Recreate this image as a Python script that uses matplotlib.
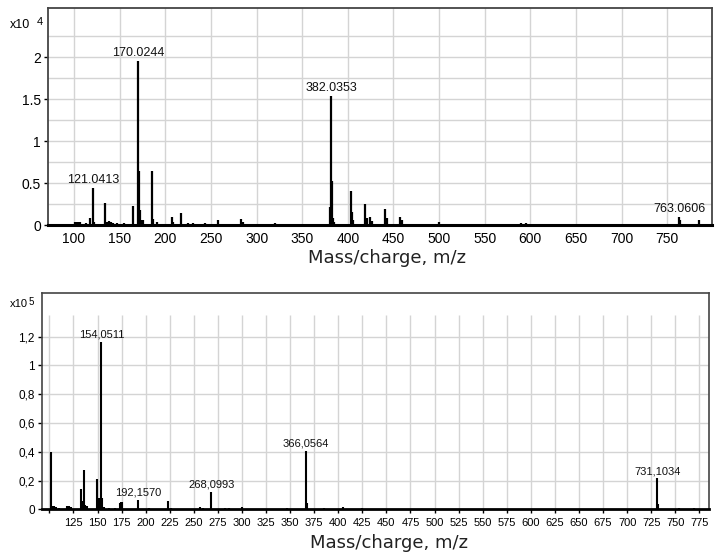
import matplotlib
matplotlib.use("Agg")
import matplotlib.pyplot as plt

# ---------------- data: top spectrum (intensity x10^4) ----------------
top_mz = [101, 103, 105, 107, 113, 118, 121.0413, 122, 133.5, 136, 138, 140, 143, 147,
          155, 164.5, 170.0244, 171, 172, 174, 176, 185, 187, 191, 207, 208, 217,
          225, 230, 243, 258, 283, 285, 320, 381, 382.0353, 383, 384, 385, 404, 405, 406,
          419, 421, 424, 426, 441, 443, 457, 459, 500, 540, 560, 565, 570, 575, 580,
          590, 595, 620, 635, 700, 715, 730, 763.0606, 764, 785]
top_int = [0.03, 0.03, 0.03, 0.04, 0.02, 0.08, 0.44, 0.04, 0.26, 0.03, 0.05, 0.03, 0.02, 0.02,
           0.02, 0.23, 1.96, 0.65, 0.18, 0.06, 0.06, 0.64, 0.07, 0.04, 0.09, 0.03, 0.14,
           0.02, 0.02, 0.02, 0.06, 0.07, 0.03, 0.02, 0.22, 1.54, 0.52, 0.08, 0.03, 0.41, 0.16, 0.06,
           0.25, 0.08, 0.09, 0.05, 0.19, 0.08, 0.10, 0.06, 0.03, 0.015, 0.015, 0.015, 0.015, 0.015, 0.015,
           0.02, 0.02, 0.015, 0.015, 0.015, 0.015, 0.015, 0.10, 0.06, 0.06]
top_labels = {121.0413: "121.0413", 170.0244: "170.0244", 382.0353: "382.0353", 763.0606: "763.0606"}

# ---------------- data: bottom spectrum (intensity x10^5) ----------------
bot_mz = [102, 104, 105, 107, 110, 118, 120, 122, 132.5, 134, 136, 137, 139, 149.5, 151, 152,
          154.0511, 155, 157, 162, 168, 173, 174, 175, 192.157, 203, 223.5, 226, 256, 259,
          268.0993, 282, 287, 300, 347, 366.0564, 367, 385, 405, 425, 731.1034, 732.5, 754, 769]
bot_int = [0.40, 0.02, 0.02, 0.015, 0.01, 0.02, 0.02, 0.015, 0.14, 0.06, 0.27, 0.03, 0.02, 0.21, 0.08, 0.02,
           1.165, 0.08, 0.015, 0.01, 0.01, 0.045, 0.05, 0.05, 0.065, 0.01, 0.06, 0.01, 0.015, 0.01,
           0.12, 0.01, 0.01, 0.015, 0.01, 0.405, 0.046, 0.01, 0.015, 0.01, 0.215, 0.04, 0.01, 0.01]
bot_labels = {154.0511: "154,0511", 192.157: "192,1570", 268.0993: "268,0993",
              366.0564: "366,0564", 731.1034: "731,1034"}

top_xticks = [100, 150, 200, 250, 300, 350, 400, 450, 500, 550, 600, 650, 700, 750]
top_yticks = [0, 0.5, 1, 1.5, 2]
top_ytick_labels = ["0", "0.5", "1", "1.5", "2"]
top_ygrid = [0.25, 0.5, 0.75, 1.0, 1.25, 1.5, 1.75, 2.0, 2.25]

bot_xticks = list(range(100, 776, 25))
bot_xtick_labels = [""] + [str(v) for v in range(125, 776, 25)]
bot_yticks = [0, 0.2, 0.4, 0.6, 0.8, 1.0, 1.2]
bot_ytick_labels = ["0", "0,2", "0,4", "0,6", "0,8", "1", "1,2"]

xlabel = "Mass/charge, m/z"

plt.rcParams['font.family'] = ['Liberation Sans', 'DejaVu Sans']

fig = plt.figure(figsize=(7.17, 5.57), dpi=100)
W, H = 717, 557

def ax_rect(l, t, r, b):
    return [l / W, 1 - b / H, (r - l) / W, (b - t) / H]

grid_col = '#d4d4d4'

# ---------------- top panel ----------------
ax1 = fig.add_axes(ax_rect(48, 8, 712, 225))
ax1.set_xlim(71.5, 799)
ax1.set_ylim(0, 2.59)
for g in top_xticks:
    ax1.axvline(g, color=grid_col, lw=1.0, zorder=0)
for g in top_ygrid:
    ax1.axhline(g, color=grid_col, lw=1.0, zorder=0)
ax1.vlines(top_mz, 0, top_int, color='black', lw=1.6, zorder=3)
for m, lab in top_labels.items():
    y = top_int[top_mz.index(m)]
    ax1.annotate(lab, (m, y), xytext=(0, 1.5), textcoords='offset points',
                 ha='center', va='bottom', fontsize=9, color='#111111')
ax1.set_xticks(top_xticks)
ax1.set_xticklabels([str(v) for v in top_xticks], fontsize=10)
ax1.set_yticks(top_yticks)
ax1.set_yticklabels(top_ytick_labels, fontsize=10)
ax1.tick_params(axis='x', length=0, pad=5)
ax1.tick_params(axis='y', length=3, width=1, pad=2)
for s in ['top', 'right', 'left']:
    ax1.spines[s].set_color('#444444')
    ax1.spines[s].set_linewidth(1.3)
ax1.spines['bottom'].set_color('black')
ax1.spines['bottom'].set_linewidth(2.2)
ax1.set_xlabel(xlabel, fontsize=13, family='DejaVu Sans', color='#222222')
ax1.xaxis.set_label_coords(0.51, -0.11)
fig.text(10 / W, 1 - 25 / H, "x10", fontsize=9, va='center', ha='left')
fig.text(37 / W, 1 - 22 / H, "4", fontsize=8, va='center', ha='left')

# ---------------- bottom panel ----------------
ax2 = fig.add_axes(ax_rect(41.7, 292.7, 709, 509.3))
ax2.set_xlim(92, 785)
ax2.set_ylim(0, 1.505)
ax2.vlines(bot_xticks, 0, 1.35, color=grid_col, lw=1.0, zorder=0)
for g in bot_yticks[1:]:
    ax2.axhline(g, color=grid_col, lw=1.0, zorder=0)
ax2.vlines(bot_mz, 0, bot_int, color='black', lw=1.5, zorder=3)
for m, lab in bot_labels.items():
    y = bot_int[bot_mz.index(m)]
    ax2.annotate(lab, (m, y), xytext=(0, 1.5), textcoords='offset points',
                 ha='center', va='bottom', fontsize=8, color='#111111')
ax2.set_xticks(bot_xticks)
ax2.set_xticklabels(bot_xtick_labels, fontsize=8)
ax2.set_yticks(bot_yticks)
ax2.set_yticklabels(bot_ytick_labels, fontsize=8.5)
ax2.tick_params(axis='x', length=3, width=1, pad=3)
ax2.tick_params(axis='y', length=3, width=1, pad=2)
for s in ['top', 'right', 'left']:
    ax2.spines[s].set_color('#444444')
    ax2.spines[s].set_linewidth(1.2)
ax2.spines['bottom'].set_color('black')
ax2.spines['bottom'].set_linewidth(2.0)
ax2.set_xlabel(xlabel, fontsize=13, family='DejaVu Sans', color='#222222')
ax2.xaxis.set_label_coords(0.52, -0.115)
fig.text(10 / W, 1 - 304 / H, "x10", fontsize=8, va='center', ha='left')
fig.text(29 / W, 1 - 302 / H, "5", fontsize=7, va='center', ha='left')

fig.savefig("out.png", dpi=100)
